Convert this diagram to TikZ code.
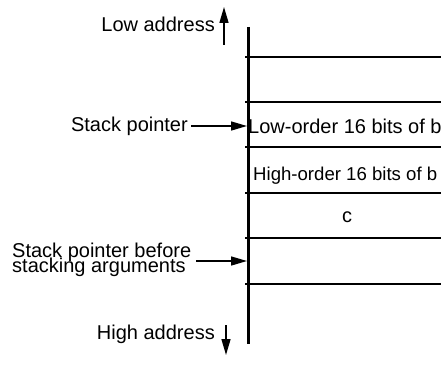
\documentclass[tikz,border=0pt]{standalone}
\usepackage{fontspec}
\setmainfont{Liberation Sans}
\usetikzlibrary{arrows.meta}
\begin{document}
\begin{tikzpicture}[x=1pt,y=1pt,
  lbl/.style={inner sep=0pt,font=\fontsize{20}{15}\selectfont},
  small/.style={inner sep=0pt,font=\fontsize{18.6}{15}\selectfont},
  arr/.style={line width=1.5pt,-{Triangle[length=16pt,width=9pt]}},
  cellline/.style={line width=2pt},
  axis/.style={line width=3pt}]
\useasboundingbox (0,0) rectangle (441,365);
\clip (0,0) rectangle (441,365);
% axis
\coordinate (vtop) at (248,338);
\coordinate (vbot) at (248,21);
\draw[axis] (vtop) -- (vbot);
% cell lines
\foreach \y/\n in {308/a,263/b,218/c,172/d,127/e,81/f}{
  \coordinate (l\n) at (245,\y);
  \coordinate (r\n) at (441,\y);
  \draw[cellline] (l\n) -- (r\n);
}
% low address
\node[lbl,anchor=base east] (low) at (215,333) {Low address};
\coordinate (lowA) at (224,320);
\coordinate (lowB) at (224,358);
\draw[arr] (lowA) -- (lowB);
% high address
\node[lbl,anchor=base east] (high) at (215,26) {High address};
\coordinate (highA) at (226,40);
\coordinate (highB) at (226,10);
\draw[arr] (highA) -- (highB);
% stack pointer
\node[lbl,anchor=base east] (sp) at (188,234) {Stack pointer};
\coordinate (spS) at (191,239);
\coordinate (spT) at (247,239);
\draw[arr] (spS) -- (spT);
% cell texts
\node[lbl,anchor=base west] (lo) at (248,232) {Low-order 16 bits of b};
\node[small,anchor=base west] (hi) at (253,185) {High-order 16 bits of b};
\node[lbl,anchor=base] (cc) at (347,143) {c};
% stack pointer before
\node[lbl,anchor=base west] (spb1) at (12,108) {Stack pointer before};
\node[lbl,anchor=base west] (spb2) at (12,93) {stacking arguments};
\coordinate (spbS) at (196,104);
\coordinate (spbT) at (247,104);
\draw[arr] (spbS) -- (spbT);
\end{tikzpicture}
\end{document}
